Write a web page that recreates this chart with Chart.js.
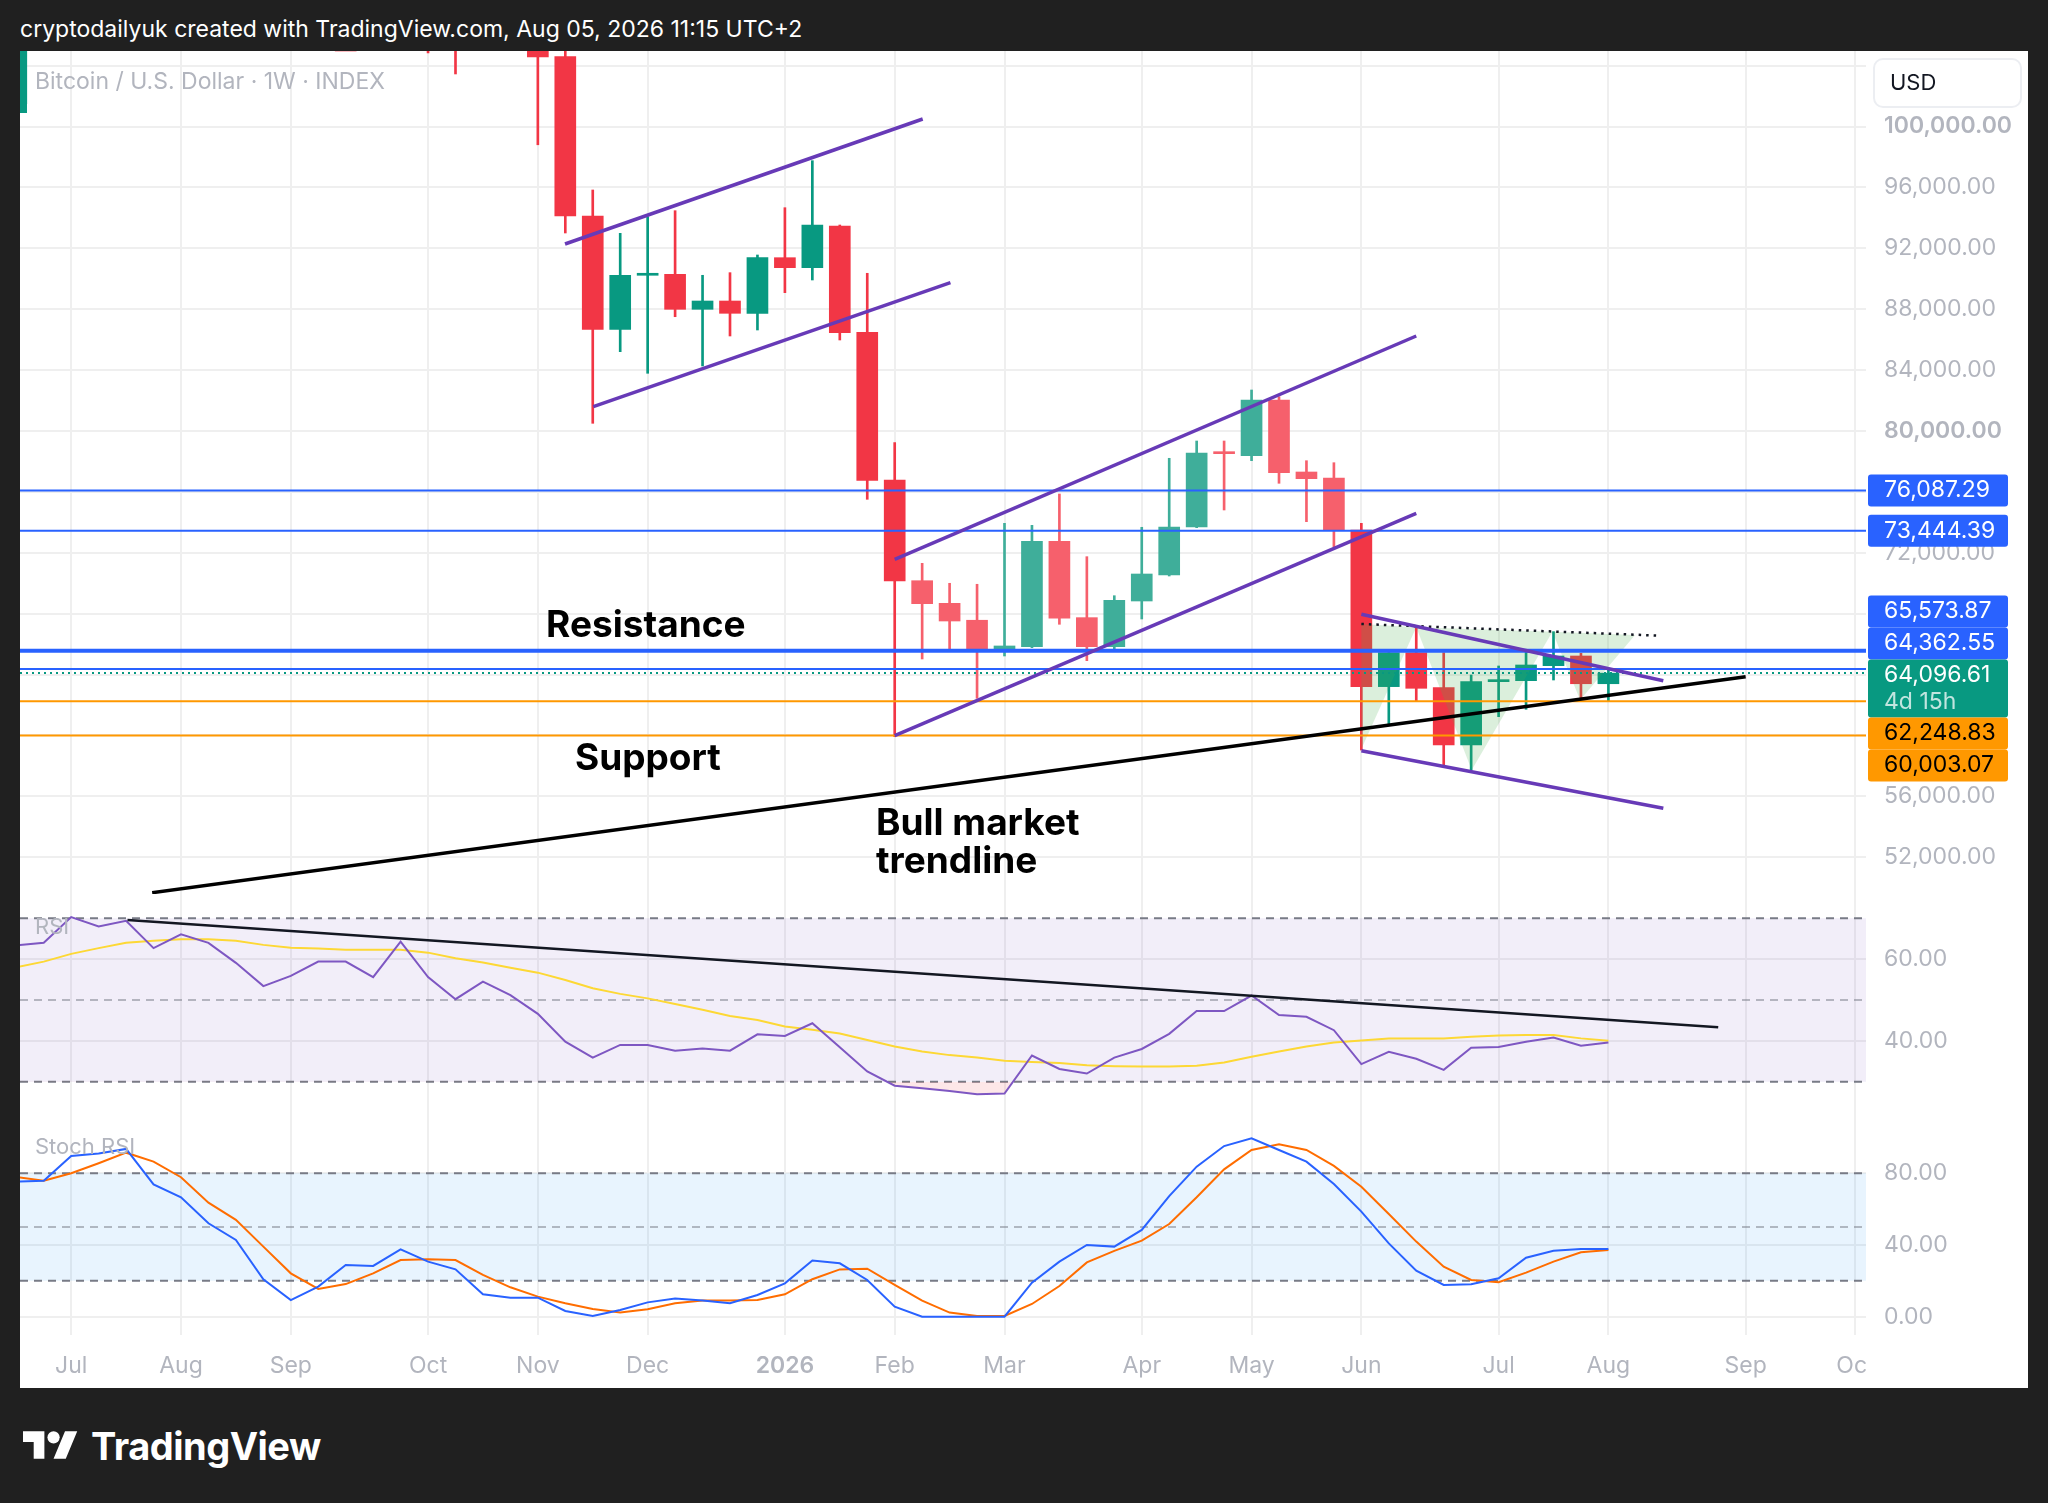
<!DOCTYPE html>
<html>
<head>
<meta charset="utf-8">
<title>Bitcoin / U.S. Dollar 1W</title>
<script src="https://cdn.jsdelivr.net/npm/chart.js@4.4.1/dist/chart.umd.min.js"></script>
<style>
  html, body { margin: 0; padding: 0; }
  body { width: 2048px; height: 1503px; background: #202020; overflow: hidden; position: relative;
         font-family: Inter, "Noto Sans", sans-serif; }
  #header { position: absolute; left: 20px; top: 15px; color: #fff; font-size: 23px; line-height: 28px; }
  #panel { position: absolute; left: 20px; top: 51px; width: 2008px; height: 1337px; background: #fff; overflow: hidden; }
  #panel canvas { position: absolute; left: 0; }
  .legend { position: absolute; left: 15px; color: #b2b5be; font-size: 22px; line-height: 24px; }
  #marker { position: absolute; left: 0; top: 1px; width: 7px; height: 61px; background: #089981; }
  #logo { position: absolute; left: 23px; top: 1424px; height: 44px; display: flex; align-items: center;
          color: #fff; font-weight: 700; font-size: 38px; letter-spacing: -0.5px; }
  #logo svg { margin-right: 13px; }
</style>
</head>
<body>
<div id="header">cryptodailyuk created with TradingView.com, Aug 05, 2026 11:15 UTC+2</div>
<div id="panel">
  <canvas id="priceChart" width="2008" height="843" style="top:0"></canvas>
  <canvas id="rsiChart" width="2008" height="220" style="top:843px"></canvas>
  <canvas id="stochChart" width="2008" height="274" style="top:1063px"></canvas>
  <div id="marker"></div>
  <div class="legend" style="top:18px;font-size:23px">Bitcoin / U.S. Dollar · 1W · INDEX</div>
  <div class="legend" style="top:863px">RSI</div>
  <div class="legend" style="top:1083px">Stoch RSI</div>
</div>
<div id="logo">
  <svg width="55" height="43" viewBox="0 0 36 28"><path fill="#fff" d="M14 22H7V11H0V4h14v18zM28 22h-8l7.5-18h8L28 22z"/><circle fill="#fff" cx="20" cy="8" r="4"/></svg>
  <span>TradingView</span>
</div>

<script>
// weekly bars, first bar = week of Jun 23, 2025 (Monday)
var WEEK_START = '2025-06-23';
var MONTHS = ['Jan', 'Feb', 'Mar', 'Apr', 'May', 'Jun', 'Jul', 'Aug', 'Sep', 'Oct', 'Nov', 'Dec'];

var OPEN = [101500, 108400, 109200, 119100, 117300, 119400, 114200, 119300, 117400, 113500,
  108300, 111100, 115300, 115200, 112200, 123500, 115100, 108600, 114500, 110500,
  104585, 94122, 86680, 90227, 90290, 87993, 88538, 87730, 91383, 90726,
  93465, 86483, 76782, 70167, 68680, 67570, 65617, 65833, 72755, 67740,
  65833, 68834, 70542, 73695, 78600, 78378, 82036, 77307, 76913, 73498,
  63209, 65439, 63143, 59376, 63537, 63600, 64585, 65222, 63400];
var HIGH = [108500, 110500, 119500, 123200, 120200, 119800, 122300, 124500, 117600, 113600,
  113400, 116800, 117900, 115400, 125700, 126200, 115900, 114800, 116400, 110600,
  107500, 95830, 92985, 94075, 94470, 90227, 90400, 91560, 94667, 97754,
  93530, 90358, 79232, 71310, 69997, 69932, 73937, 73806, 75862, 71745,
  69182, 73675, 78207, 79343, 79343, 82693, 82253, 78049, 77918, 73937,
  65450, 67040, 65439, 63974, 64565, 65505, 66820, 65396, 64300];
var LOW = [101000, 105100, 107500, 115700, 114700, 112000, 112700, 116800, 110700, 107300,
  107300, 110600, 114300, 108600, 112000, 104830, 103450, 106900, 106300, 98800,
  93005, 80505, 85210, 83790, 87507, 84270, 86240, 86634, 89084, 89918,
  85977, 75514, 59921, 65025, 65660, 62442, 65222, 65770, 67304, 64915,
  65616, 67652, 70476, 73649, 74811, 78049, 76565, 74043, 72401, 59048,
  60755, 62222, 58062, 57734, 61236, 61720, 63645, 62332, 62222];
var CLOSE = [108400, 109200, 119100, 117300, 119400, 114200, 119300, 117400, 113500, 108300,
  111100, 115300, 115200, 112200, 123500, 115100, 108600, 114500, 110500, 104570,
  94122, 86680, 90227, 90360, 87993, 88538, 87730, 91383, 90726, 93530,
  86457, 76762, 70148, 68657, 67520, 65617, 65880, 72755, 67698, 65833,
  68877, 70607, 73695, 78555, 78510, 82036, 77261, 76867, 73452, 63209,
  65439, 63100, 59376, 63537, 63660, 64631, 65222, 63400, 64096.61];

var RSI = [63.4, 64.0, 70.3, 68.0, 69.4, 62.7, 66.1, 64.0, 59.1, 53.4,
  55.9, 59.4, 59.4, 55.6, 64.3, 55.6, 50.2, 54.5, 51.2, 46.6,
  39.8, 35.9, 39.0, 39.0, 37.6, 38.1, 37.6, 41.6, 41.2, 44.3,
  38.4, 32.5, 29.0, 28.4, 27.7, 26.9, 27.1, 36.4, 33.1, 32.0,
  35.9, 38.0, 41.7, 47.3, 47.3, 51.1, 46.3, 45.9, 42.6, 34.3,
  37.3, 35.6, 32.9, 38.3, 38.5, 39.8, 40.8, 38.8, 39.6];
var RSI_MA = [58.0, 59.4, 61.3, 62.7, 64.0, 64.5, 64.9, 64.9, 64.5, 63.5,
  62.8, 62.6, 62.3, 62.3, 62.3, 61.6, 60.2, 59.2, 57.9, 56.7,
  54.9, 52.9, 51.5, 50.4, 49.0, 47.6, 46.1, 45.1, 43.5, 42.7,
  41.8, 40.2, 38.6, 37.4, 36.5, 35.9, 35.1, 34.8, 34.6, 34.0,
  33.8, 33.7, 33.7, 33.9, 34.7, 36.1, 37.4, 38.6, 39.6, 40.1,
  40.6, 40.6, 40.6, 41.0, 41.3, 41.4, 41.4, 40.6, 40.0];
var STOCH_K = [75.3, 75.9, 89.7, 91.1, 93.6, 73.8, 66.6, 52.1, 42.8, 20.9,
  9.3, 16.8, 28.8, 28.3, 37.6, 30.7, 26.4, 12.5, 10.6, 10.6,
  3.2, 0.4, 3.7, 8.0, 10.1, 9.0, 7.5, 12.1, 18.6, 31.3,
  29.8, 20.5, 5.6, 0, 0, 0, 0, 19.0, 30.7, 40.0,
  39.1, 48.4, 67.3, 83.7, 95.2, 99.5, 93.0, 86.5, 74.0, 58.6,
  40.9, 25.7, 17.7, 18.1, 21.4, 32.9, 36.8, 37.8, 37.8];
var STOCH_D = [77.9, 75.9, 80.0, 85.6, 91.5, 86.5, 77.8, 63.6, 54.0, 39.1,
  24.2, 15.5, 18.2, 24.2, 31.6, 32.0, 31.6, 23.3, 16.4, 11.2,
  7.5, 4.3, 2.4, 4.1, 7.5, 9.0, 9.0, 9.3, 12.5, 20.9,
  26.4, 26.8, 17.7, 9.0, 2.3, 0.4, 0.4, 7.1, 17.1, 30.3,
  36.7, 42.4, 51.7, 66.6, 82.2, 93.0, 96.2, 93.0, 84.1, 72.5,
  57.3, 41.9, 27.9, 20.5, 19.2, 24.6, 30.7, 35.9, 37.2];

// horizontal levels and the live price
var LEVELS = [76087.29, 73444.39, 65573.87, 64362.55, 62248.83, 60003.07];
var LAST_PRICE = 64096.61;
var COUNTDOWN = '4d 15h';

// drawings, [week index, value]
var CHANNEL_1_UPPER = [[19.99, 92282], [33.02, 100493]];
var CHANNEL_1_LOWER = [[21.02, 81596], [34.03, 89741]];
var CHANNEL_2_UPPER = [[32.0, 71573], [51.0, 86240]];
var CHANNEL_2_LOWER = [[32.0, 59987], [51.0, 74594]];
var WEDGE_UPPER = [[49.0, 67960], [60.0, 63600]];
var WEDGE_LOWER = [[49.0, 59000], [60.0, 55219]];
var NECKLINE = [[49.0, 67323], [59.88, 66555]];
var BULL_TREND = [[4.95, 49675], [63.0, 63862]];
var RSI_TREND = [[4.05, 69.6], [62.0, 43.3]];
var HS_TRIANGLES = [
  [[49.0, 67323], [51.0, 67110], [49.0, 59113]],
  [[51.0, 67110], [55.96, 66820], [53.02, 57734]],
  [[55.96, 66820], [58.97, 66601], [56.97, 62332]]
];
var NOTES = [['Resistance', 19.3, 66489], ['Support', 20.35, 57747],
  ['Bull market', 31.32, 53465], ['trendline', 31.32, 50969]];

// ---- view / style ----
var X_MIN = 0.135, X_MAX = 67.384;
var PRICE_MIN = 49589, PRICE_MAX = 104959;
var AXIS_W = 162;
var GRID = '#efefef';
var AXIS_TEXT = '#b2b5be';
var UP = '#089981', DOWN = '#f23645', UP_FADED = '#3fae9a', DOWN_FADED = '#f6606c';
var BLUE = '#2962ff', ORANGE = '#ff9800', PURPLE = '#673ab7';
var LEVEL_STYLE = [
  { color: BLUE, width: 2 }, { color: BLUE, width: 2 }, { color: BLUE, width: 4 },
  { color: BLUE, width: 2 }, { color: ORANGE, width: 2 }, { color: ORANGE, width: 2 }
];

Chart.defaults.font.family = 'Inter, "Noto Sans", sans-serif';

// month ticks: first weekly bar of every month
var TICKS_X = [], TICK_LABEL = {};
function weekDate(i) {
  var d = new Date(WEEK_START + 'T00:00:00Z');
  d.setUTCDate(d.getUTCDate() + 7 * i);
  return d;
}
for (var w = 1; w <= 68; w++) {
  var a = weekDate(w - 1), b = weekDate(w);
  if (a.getUTCMonth() !== b.getUTCMonth()) {
    TICKS_X.push(w);
    TICK_LABEL[w] = b.getUTCMonth() === 0 ? String(b.getUTCFullYear()) : MONTHS[b.getUTCMonth()];
  }
}

function money(v) {
  return v.toLocaleString('en-US', { minimumFractionDigits: 2, maximumFractionDigits: 2 });
}

function timeScale(showLabels) {
  return {
    type: 'linear', min: X_MIN, max: X_MAX, offset: false,
    afterBuildTicks: function (s) { s.ticks = TICKS_X.map(function (v) { return { value: v }; }); },
    afterFit: function (s) { s.height = showLabels ? 53 : 0; s.paddingLeft = 0; s.paddingRight = 0; },
    grid: { color: GRID, lineWidth: 2, drawTicks: false, offset: false },
    border: { display: false },
    ticks: {
      display: showLabels, autoSkip: false, maxRotation: 0, padding: 17, color: AXIS_TEXT,
      font: function (c) {
        var t = c.tick && TICK_LABEL[c.tick.value];
        return { size: 23, weight: t && /^\d+$/.test(t) ? '600' : '400' };
      },
      callback: function (v) { return TICK_LABEL[v] || ''; }
    }
  };
}

function valueScale(min, max, ticks, bold, labelMax) {
  return {
    position: 'right', min: min, max: max,
    afterBuildTicks: function (s) { s.ticks = ticks.map(function (v) { return { value: v }; }); },
    afterFit: function (s) { s.width = AXIS_W; s.paddingTop = 0; s.paddingBottom = 0; },
    grid: { color: GRID, lineWidth: 2, drawTicks: false },
    border: { display: false },
    ticks: {
      padding: 18, color: AXIS_TEXT,
      font: function (c) {
        return { size: 23, weight: bold && c.tick && bold(c.tick.value) ? '600' : '400' };
      },
      // labels under the currency button are not shown
      callback: function (v) { return labelMax !== undefined && v > labelMax ? '' : money(v); }
    }
  };
}

function options(yScale, showTime) {
  return {
    responsive: false, animation: false, events: [],
    layout: { padding: 0, autoPadding: false },
    plugins: { legend: { display: false }, tooltip: { enabled: false } },
    scales: { x: timeScale(showTime), y: yScale }
  };
}

function seg(points, color, width, dash, order) {
  return {
    type: 'line',
    data: points.map(function (p) { return { x: p[0], y: p[1] }; }),
    borderColor: color, borderWidth: width, borderDash: dash || [],
    pointRadius: 0, fill: false, tension: 0, order: order
  };
}

function flat(value, color, width, dash, order) {
  return seg([[X_MIN, value], [X_MAX, value]], color, width, dash, order);
}

// ---- price pane ----
var bars = OPEN.map(function (_, i) { return i; });
function candleColor(i) {
  var faded = i >= 33 && i <= 48;
  if (CLOSE[i] >= OPEN[i]) return faded ? UP_FADED : UP;
  return faded ? DOWN_FADED : DOWN;
}
var colors = bars.map(candleColor);

var priceSets = [
  { type: 'bar', data: bars.map(function (i) { return { x: i, y: [LOW[i], HIGH[i]] }; }),
    backgroundColor: colors, barThickness: 2, grouped: false, order: 20 },
  { type: 'bar', data: bars.map(function (i) { return { x: i, y: [OPEN[i], CLOSE[i]] }; }),
    backgroundColor: colors, barThickness: 21, minBarLength: 2, grouped: false, order: 19 }
];
HS_TRIANGLES.forEach(function (t) {
  priceSets.push({
    type: 'line', data: t.concat([t[0]]).map(function (p) { return { x: p[0], y: p[1] }; }),
    fill: 'shape', backgroundColor: 'rgba(76,175,80,0.2)', borderWidth: 0, pointRadius: 0, order: 9
  });
});
LEVELS.forEach(function (p, i) {
  priceSets.push(flat(p, LEVEL_STYLE[i].color, LEVEL_STYLE[i].width, [], 6));
});
priceSets.push(flat(LAST_PRICE, UP, 2, [2, 4], 7));
priceSets.push(seg(NECKLINE, '#131722', 2.5, [2.5, 5], 5));
[CHANNEL_1_UPPER, CHANNEL_1_LOWER, CHANNEL_2_UPPER, CHANNEL_2_LOWER, WEDGE_UPPER, WEDGE_LOWER]
  .forEach(function (l) { priceSets.push(seg(l, PURPLE, 3.5, [], 2)); });
priceSets.push(seg(BULL_TREND, '#000', 3.5, [], 1));

var axisLabels = LEVELS.map(function (p, i) {
  return { price: p, color: LEVEL_STYLE[i].color, text: LEVEL_STYLE[i].color === ORANGE ? '#000' : '#fff' };
});
axisLabels.push({ price: LAST_PRICE, color: UP, text: '#fff', sub: COUNTDOWN });

var priceScaleLabels = {
  id: 'priceScaleLabels',
  afterDraw: function (chart) {
    var ctx = chart.ctx, y = chart.scales.y, left = chart.chartArea.right + 2;
    ctx.save();
    // currency button
    ctx.fillStyle = '#fff'; ctx.strokeStyle = '#eceef2'; ctx.lineWidth = 2;
    ctx.beginPath(); ctx.roundRect(left + 6, 8, 147, 48, 9); ctx.fill(); ctx.stroke();
    ctx.fillStyle = '#131722'; ctx.font = '22px Inter, sans-serif'; ctx.textBaseline = 'middle';
    ctx.fillText('USD', left + 22, 32);

    var items = axisLabels.map(function (l) {
      var h = l.sub ? 58 : 32;
      return { l: l, h: h, want: y.getPixelForValue(l.price) - 16 };
    }).sort(function (a, b) { return a.want - b.want; });
    var groups = items.map(function (it) { return { items: [it], top: it.want, h: it.h }; });
    var merged = true;
    while (merged) {
      merged = false;
      for (var i = 0; i < groups.length - 1; i++) {
        var g = groups[i], n = groups[i + 1];
        if (g.top + g.h > n.top) {
          var all = g.items.concat(n.items), h = g.h + n.h;
          var c = all.reduce(function (s, it) { return s + it.want + it.h / 2; }, 0) / all.length;
          groups.splice(i, 2, { items: all, top: c - h / 2, h: h });
          merged = true;
          break;
        }
      }
    }
    ctx.font = '23px Inter, sans-serif';
    groups.forEach(function (g) {
      var top = g.top;
      g.items.forEach(function (it) {
        ctx.fillStyle = it.l.color;
        ctx.beginPath(); ctx.roundRect(left, top, 140, it.h, 3); ctx.fill();
        ctx.fillStyle = it.l.text;
        ctx.fillText(money(it.l.price), left + 16, top + 16);
        if (it.l.sub) {
          ctx.fillStyle = 'rgba(255,255,255,0.75)';
          ctx.fillText(it.l.sub, left + 16, top + 43);
        }
        top += it.h;
      });
    });
    ctx.restore();
  }
};

var chartNotes = {
  id: 'chartNotes',
  afterDatasetsDraw: function (chart) {
    var ctx = chart.ctx, x = chart.scales.x, y = chart.scales.y;
    ctx.save();
    ctx.font = '700 37px Inter, sans-serif';
    ctx.fillStyle = '#000';
    ctx.textBaseline = 'alphabetic';
    NOTES.forEach(function (n) { ctx.fillText(n[0], x.getPixelForValue(n[1]), y.getPixelForValue(n[2])); });
    ctx.restore();
  }
};

var priceTicks = [];
for (var p = 52000; p <= 104000; p += 4000) priceTicks.push(p);

new Chart(document.getElementById('priceChart'), {
  type: 'bar',
  data: { datasets: priceSets },
  options: options(valueScale(PRICE_MIN, PRICE_MAX, priceTicks, function (v) { return v % 20000 === 0; }, 100000), false),
  plugins: [chartNotes, priceScaleLabels]
});

// ---- RSI pane ----
function series(values) { return values.map(function (v, i) { return { x: i, y: v }; }); }

var rsiSets = [
  flat(70, '#787b86', 2, [8, 6], 12),
  Object.assign(flat(30, '#787b86', 2, [8, 6], 12), { fill: '-1', backgroundColor: 'rgba(126,87,194,0.1)' }),
  flat(50, 'rgba(120,123,134,0.5)', 2, [8, 6], 11),
  { data: series(RSI_MA), borderColor: '#fdd835', borderWidth: 2, pointRadius: 0, tension: 0, fill: false, order: 4 },
  { data: series(RSI), borderColor: '#7e57c2', borderWidth: 2, pointRadius: 0, tension: 0, order: 3,
    fill: { target: { value: 30 }, above: 'rgba(0,0,0,0)', below: 'rgba(242,54,69,0.12)' } },
  seg(RSI_TREND, '#131722', 2.5, [], 2)
];

new Chart(document.getElementById('rsiChart'), {
  type: 'line',
  data: { datasets: rsiSets },
  options: options(valueScale(22.08, 75.96, [40, 60]), false)
});

// ---- Stoch RSI pane ----
var stochSets = [
  flat(80, '#787b86', 2, [8, 6], 12),
  Object.assign(flat(20, '#787b86', 2, [8, 6], 12), { fill: '-1', backgroundColor: 'rgba(33,150,243,0.1)' }),
  flat(50, 'rgba(120,123,134,0.5)', 2, [8, 6], 11),
  { data: series(STOCH_D), borderColor: '#ff6d00', borderWidth: 2, pointRadius: 0, tension: 0, fill: false, order: 4 },
  { data: series(STOCH_K), borderColor: BLUE, borderWidth: 2, pointRadius: 0, tension: 0, fill: false, order: 3 }
];

var clipTimeAxis = {
  id: 'clipTimeAxis',
  afterDraw: function (chart) {
    var a = chart.chartArea;
    chart.ctx.save();
    chart.ctx.fillStyle = '#fff';
    chart.ctx.fillRect(a.right, a.bottom, 40, chart.height - a.bottom);
    chart.ctx.restore();
  }
};

new Chart(document.getElementById('stochChart'), {
  type: 'line',
  data: { datasets: stochSets },
  options: options(valueScale(-10.21, 113.08, [0, 40, 80]), true),
  plugins: [clipTimeAxis]
});
</script>
</body>
</html>
